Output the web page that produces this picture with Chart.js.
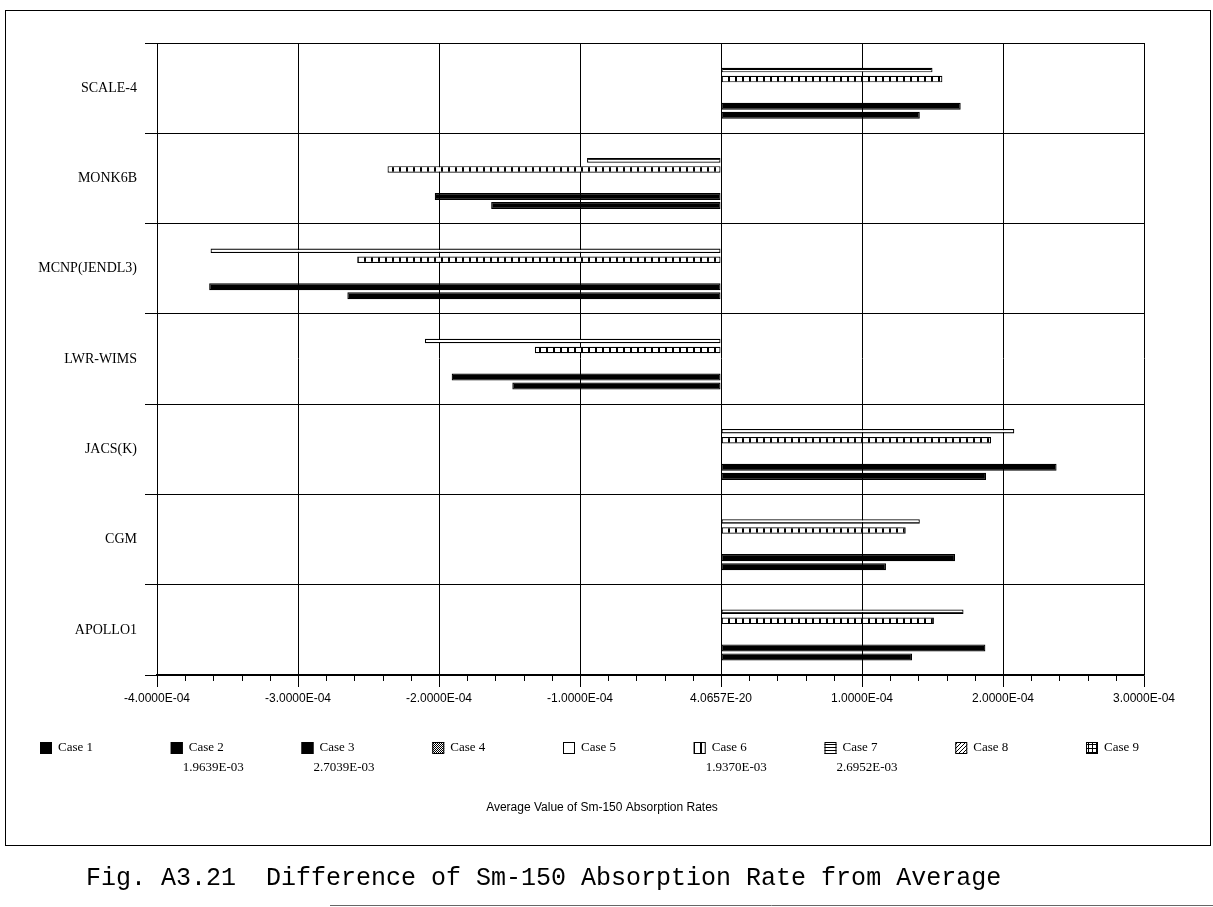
<!DOCTYPE html>
<html>
<head>
<meta charset="utf-8">
<script src="https://cdn.jsdelivr.net/npm/chart.js@4.4.0/dist/chart.umd.min.js"></script>
<style>
html, body { margin: 0; padding: 0; background: #fff; }
</style>
</head>
<body>
<canvas id="smChart" width="1213" height="907"></canvas>
<script>
// codes, top to bottom as on the chart
const codes = ['SCALE-4', 'MONK6B', 'MCNP(JENDL3)', 'LWR-WIMS', 'JACS(K)', 'CGM', 'APOLLO1'];
const caseNames = ['Case 1', 'Case 2', 'Case 3', 'Case 4', 'Case 5', 'Case 6', 'Case 7', 'Case 8', 'Case 9'];
const caseAverages = ['', '1.9639E-03', '2.7039E-03', '', '', '1.9370E-03', '2.6952E-03', '', ''];

const case1 = [null, null, null, null, null, null, null];
const case2 = [1.41e-4, -1.63e-4, -2.65e-4, -1.48e-4, 1.88e-4, 1.17e-4, 1.355e-4];
const case3 = [1.70e-4, -2.03e-4, -3.63e-4, -1.91e-4, 2.38e-4, 1.66e-4, 1.875e-4];
const case4 = [null, null, null, null, null, null, null];
const case5 = [null, null, null, null, null, null, null];
const case6 = [1.57e-4, -2.365e-4, -2.58e-4, -1.32e-4, 1.915e-4, 1.31e-4, 1.51e-4];
const case7 = [1.50e-4, -0.95e-4, -3.62e-4, -2.10e-4, 2.08e-4, 1.41e-4, 1.72e-4];
const case8 = [null, null, null, null, null, null, null];
const case9 = [null, null, null, null, null, null, null];

const xTickLabels = ['-4.0000E-04', '-3.0000E-04', '-2.0000E-04', '-1.0000E-04', '4.0657E-20',
                     '1.0000E-04', '2.0000E-04', '3.0000E-04'];
const axisTitle = 'Average Value of Sm-150 Absorption Rates';
const caption = 'Fig. A3.21  Difference of Sm-150 Absorption Rate from Average';

// fill patterns for the cases
function makePattern(kind) {
    const c = document.createElement('canvas');
    const g = c.getContext('2d');
    if (kind === 'dots') {
        c.width = 2; c.height = 2;
        g.fillStyle = '#fff'; g.fillRect(0, 0, 2, 2);
        g.fillStyle = '#000'; g.fillRect(0, 0, 1, 1); g.fillRect(1, 1, 1, 1);
    } else if (kind === 'vstripe') {
        c.width = 7; c.height = 1;
        g.fillStyle = '#fff'; g.fillRect(0, 0, 7, 1);
        g.fillStyle = '#000'; g.fillRect(0, 0, 2, 1);
    } else if (kind === 'hstripe') {
        c.width = 1; c.height = 3;
        g.fillStyle = '#fff'; g.fillRect(0, 0, 1, 3);
        g.fillStyle = '#000'; g.fillRect(0, 0, 1, 1);
    } else if (kind === 'diag') {
        c.width = 4; c.height = 4;
        g.fillStyle = '#fff'; g.fillRect(0, 0, 4, 4);
        g.fillStyle = '#000';
        for (let i = 0; i < 4; i++) g.fillRect(i, 3 - i, 1, 1);
    } else if (kind === 'grid') {
        c.width = 4; c.height = 4;
        g.fillStyle = '#fff'; g.fillRect(0, 0, 4, 4);
        g.fillStyle = '#000'; g.fillRect(0, 0, 4, 1); g.fillRect(0, 0, 1, 4);
    }
    return g.createPattern(c, 'repeat');
}

const caseData = [case1, case2, case3, case4, case5, case6, case7, case8, case9];
const caseFills = ['#000', '#000', '#000', makePattern('dots'), '#fff',
                   makePattern('vstripe'), makePattern('hstripe'), makePattern('diag'), makePattern('grid')];
const caseBarPct = [0.78, 0.78, 0.78, 0.6, 0.5, 0.72, 0.5, 0.6, 0.6];

// Case 1 sits at the bottom of each group, so datasets go in reverse
const datasets = caseNames.map((name, i) => ({
    label: name,
    data: caseData[i],
    backgroundColor: caseFills[i],
    borderColor: '#000',
    borderWidth: 1.2,
    borderSkipped: false,
    barPercentage: caseBarPct[i],
    categoryPercentage: 0.9
})).reverse();

const extrasPlugin = {
    id: 'extras',
    afterDraw(chart) {
        const ctx = chart.ctx;
        const area = chart.chartArea;
        const xs = chart.scales.x;
        ctx.save();
        ctx.strokeStyle = '#000';
        ctx.lineWidth = 1;

        // minor ticks under the value axis
        for (let k = -20; k <= 15; k++) {
            if (k % 5 === 0) continue;
            const px = Math.round(xs.getPixelForValue(k * 2e-5)) + 0.5;
            ctx.beginPath();
            ctx.moveTo(px, area.bottom);
            ctx.lineTo(px, area.bottom + 6);
            ctx.stroke();
        }

        // legend
        const top = area.bottom + 67;
        const box = 12;
        ctx.font = '13px "Liberation Serif"';
        ctx.textBaseline = 'middle';
        ctx.textAlign = 'left';
        caseNames.forEach((name, i) => {
            const ds = chart.data.datasets.find(d => d.label === name);
            const x = 40 + i * 130.75;
            ctx.fillStyle = ds.backgroundColor;
            ctx.fillRect(x, top, box, box);
            ctx.strokeRect(x + 0.5, top + 0.5, box - 1, box - 1);
            ctx.fillStyle = '#000';
            ctx.fillText(name, x + box + 6, top + box / 2);
            if (caseAverages[i]) ctx.fillText(caseAverages[i], x + 12, top + box / 2 + 20);
        });

        // axis title
        ctx.font = '12px "Liberation Sans"';
        ctx.textAlign = 'center';
        ctx.fillText(axisTitle, 602, area.bottom + 133);

        // frame round the chart
        ctx.strokeRect(5.5, 10.5, 1205, 835);

        // caption
        ctx.font = '25px "Liberation Mono"';
        ctx.textAlign = 'left';
        ctx.textBaseline = 'alphabetic';
        ctx.fillText(caption, 86, 885);

        ctx.strokeStyle = '#666';
        ctx.beginPath();
        ctx.moveTo(330, 905.5);
        ctx.lineTo(1213, 905.5);
        ctx.stroke();
        ctx.restore();
    }
};

new Chart(document.getElementById('smChart').getContext('2d'), {
    type: 'bar',
    data: { labels: codes, datasets: datasets },
    options: {
        indexAxis: 'y',
        responsive: false,
        animation: false,
        layout: { padding: { left: 5, right: 69, top: 43, bottom: 202 } },
        scales: {
            x: {
                min: -4e-4,
                max: 3e-4,
                afterFit(scale) { scale.height = 30; },
                ticks: {
                    stepSize: 1e-4,
                    color: '#000',
                    padding: 4,
                    maxRotation: 0,
                    font: { family: '"Liberation Sans"', size: 12 },
                    callback: (v) => xTickLabels[Math.round(v / 1e-4) + 4]
                },
                grid: { color: '#000', lineWidth: 1, tickLength: 12 },
                border: { color: '#000', width: 1.5 }
            },
            y: {
                afterFit(scale) { scale.width = 152; },
                ticks: {
                    color: '#000',
                    padding: 8,
                    font: { family: '"Liberation Serif"', size: 14 }
                },
                grid: { color: '#000', lineWidth: 1, tickLength: 12, offset: true },
                border: { color: '#000', width: 1 }
            }
        },
        plugins: {
            legend: { display: false },
            tooltip: { enabled: false }
        }
    },
    plugins: [extrasPlugin]
});
</script>
</body>
</html>
